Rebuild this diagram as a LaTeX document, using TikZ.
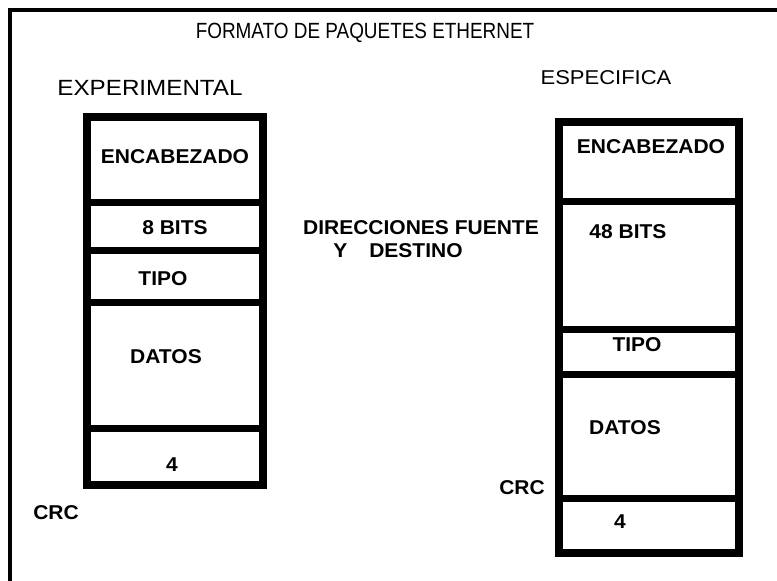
\documentclass[tikz,border=0pt]{standalone}
\usepackage{fontspec}
\setmainfont{Liberation Sans}
\newfontfamily\widefont[FakeStretch=1.05]{Liberation Sans}
\newfontfamily\headfont[FakeStretch=1.1]{Liberation Sans}
\newfontfamily\narrowfont[FakeStretch=0.86]{Liberation Sans}
\usepackage{tikz}
\usetikzlibrary{positioning}
\tikzstyle{frameline} = [line width=4pt, black]
\tikzstyle{packet} = [line width=8pt, black]
\tikzstyle{divider} = [line width=7pt, black]
\tikzstyle{field} = [inner sep=0pt, font=\widefont\bfseries\fontsize{20}{22}\selectfont]
\tikzstyle{heading} = [inner sep=0pt, font=\headfont\fontsize{22}{24}\selectfont]

\begin{document}
\begin{tikzpicture}[x=1pt, y=-1pt]
  \useasboundingbox (0,0) rectangle (777,581);
  \fill[white] (0,0) rectangle (777,581);

  % Frame
  \draw[frameline] (10,581) -- (10,10) -- (777,10);

  % Titles
  \node[inner sep=0pt, font=\narrowfont\fontsize{22}{24}\selectfont] (title) at (365,33) {FORMATO DE PAQUETES ETHERNET};
  \node[heading] (exp) at (150,88) {EXPERIMENTAL};
  \node[heading, font=\headfont\fontsize{20}{22}\selectfont] (esp) at (606,78) {ESPECIFICA};

  % Experimental packet
  \draw[packet] (87,117) rectangle (263,485);
  \foreach \y in {202,250,302,428}
    \draw[divider] (83,\y) -- (267,\y);
  \node[field] (encL) at (175,157) {ENCABEZADO};
  \node[field] (bitsL) at (175,228) {8 BITS};
  \node[field] (tipoL) at (163,279) {TIPO};
  \node[field] (datosL) at (166,357) {DATOS};
  \node[field] (crcvalL) at (172,465) {4};
  \node[field] (crcL) at (56,513) {CRC};

  % Middle label
  \node[field] (dir) at (421,228) {DIRECCIONES FUENTE};
  \node[field] (dest) at (398,251) {Y\hspace{1.1em}DESTINO};

  % Specific packet
  \draw[packet] (559,122) rectangle (739,553);
  \foreach \y in {201,329,374,498}
    \draw[divider] (555,\y) -- (743,\y);
  \node[field] (encR) at (651,147) {ENCABEZADO};
  \node[field] (bitsR) at (628,232) {48 BITS};
  \node[field] (tipoR) at (637,345) {TIPO};
  \node[field] (datosR) at (625,428) {DATOS};
  \node[field] (crcvalR) at (620,522) {4};
  \node[field] (crcR) at (522,488) {CRC};
\end{tikzpicture}
\end{document}
